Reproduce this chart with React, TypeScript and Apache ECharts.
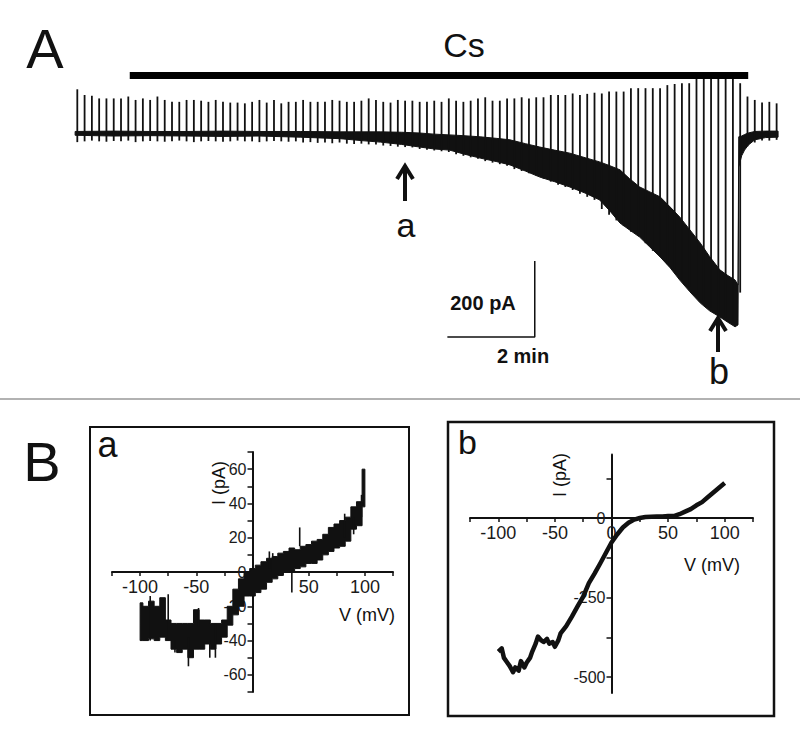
import React, { useEffect, useRef } from "react";
import * as echarts from "echarts";

// ---------- Panel A : whole-cell current trace (time in s, current in pA) ----------
const SPIKE_PERIOD_S = 10; // voltage ramp every 10 s
const spikeTops = [
  115, 100, 98, 91, 91, 91, 91, 96, 87, 91, 87, 96, 87, 82, 82, 87, 87, 85, 82, 87, 82, 80, 80,
  78, 82, 87, 80, 87, 78, 82, 82, 87, 82, 82, 82, 87, 85, 82, 82, 85, 91, 87, 82, 80, 87, 85, 85,
  82, 82, 85, 82, 91, 85, 82, 85, 91, 94, 85, 85, 91, 91, 94, 91, 94, 94, 100, 100, 100, 104, 100, 103, 106,
  104, 109, 109, 109, 118, 118, 118, 118, 118, 126, 129, 131, 131, 150, 150, 150, 150, 150, 150, 131, 96, 87, 80, 82, 78,
];
const spikeBottoms = [
  -24, -22, -20, -22, -23, -21, -22, -20, -24, -22, -21, -22, -23, -22, -20, -22, -24, -22, -21, -22, -23, -22, -20, -22, -22, -24, -22, -21, -22, -23, -22,
  -25, -24, -26, -25, -27, -25,
  -28, -29, -28, -30, -30,
  -33, -34, -36, -37, -38,
  -42, -44, -46, -48, -50,
  -56, -60, -64, -68,
  -74, -78, -82, -86,
  -95, -100, -106, -112,
  -120, -128, -136, -142,
  -150, -160, -168, -176,
  -200, -215, -230,
  -245, -260, -270,
  -290, -310, -325,
  -345, -365, -385,
  -405, -425, -440,
  -460, -475, -485,
  -500, -420,
  -35, -25, -20, -20, -18,
];
const traceTimes = [
  -3, 50, 100, 150, 200, 250, 306, 361, 390, 416, 445, 470, 490, 511, 530, 553, 575, 594, 615, 635,
  655, 676, 697, 717, 731, 745, 758, 772, 786, 800, 814, 827, 841, 855, 868, 882, 893, 903, 907, 908,
  912, 916, 921, 930, 945, 962,
];
const traceUpper = [
  4, 5, 4, 4, 5, 4, 4, 3, 3, 3, 2, 0, -3, -5, -7, -10, -14, -18, -28, -37,
  -45, -53, -65, -76, -86, -97, -120, -142, -155, -168, -195, -221, -255, -289, -325, -360, -375, -387, -400, -10,
  -8, -4, 0, 4, 5, 5,
];
const traceLower = [
  -6, -8, -7, -8, -9, -8, -11, -15, -20, -24, -30, -37, -42, -45, -55, -66, -75, -84, -100, -116,
  -128, -142, -158, -176, -205, -237, -255, -274, -300, -326, -355, -387, -418, -447, -468, -484, -498, -510, -505, -90,
  -60, -45, -32, -18, -12, -11,
];
const csBar = { start: 72, end: 921, level: 151 };
const scaleBar = { t: 628, dt: 120, i: -537, di: 200 };

// ---------- Panel B a : I-V at point a ----------
const ivA_V = [
  -100, -95, -90, -85, -80, -75, -70, -65, -60, -55, -50, -45, -40, -35, -30, -25, -20, -15, -10, -5,
  0, 5, 10, 15, 20, 25, 30, 35, 40, 45, 50, 55, 60, 65, 70, 75, 80, 85, 90, 95, 100,
];
const ivA_lower = [
  -40, -40, -39, -40, -38, -40, -45, -47, -45, -50, -45, -45, -42, -45, -42, -38, -31, -25, -20, -14,
  -14, -12, -10, -6, -4, -2, 0, 0, 2, 3, 5, 5, 7, 10, 12, 14, 15, 18, 25, 27, 38,
];
const ivA_upper = [
  -18, -20, -17, -20, -15, -28, -30, -30, -30, -30, -22, -28, -28, -30, -30, -28, -20, -10, -4, 0,
  2, 4, 6, 8, 9, 11, 12, 14, 13, 15, 16, 18, 19, 22, 26, 28, 30, 32, 38, 41, 60,
];
// isolated noise excursions of the a-trace: voltage, current from, current to
const ivA_noiseV = [-91, -75, -69, -57, -48, -38, -33, 15, 18, 35, 42, 82, 90, 97];
const ivA_noiseFrom = [-14, -13, -40, -38, -21, -40, -30, 2, 11, 0, 26, 20, 32, 32];
const ivA_noiseTo = [-40, -40, -47, -55, -32, -50, -50, 12, 0, -12, 15, 34, 22, 45];
const ivA_xTicks = [-125, -100, -75, -50, -25, 0, 25, 50, 75, 100, 125];
const ivA_xLabels = [-100, -50, 0, 50, 100];
const ivA_yTicks = [-70, -60, -50, -40, -30, -20, -10, 0, 10, 20, 30, 40, 50, 60, 70];
const ivA_yLabels = [-60, -40, -20, 0, 20, 40, 60];

// ---------- Panel B b : I-V at point b ----------
const ivB_V = [
  -100, -97, -95, -92, -90, -87, -85, -82, -80, -77, -75, -72, -70, -67, -65, -62, -60, -57, -55, -52,
  -50, -47, -45, -40, -35, -30, -25, -20, -15, -10, -5, 0, 5, 10, 15, 20, 25, 30, 35, 40,
  45, 50, 55, 60, 65, 70, 75, 80, 85, 90, 95, 100,
];
const ivB_I = [
  -420, -410, -440, -455, -465, -485, -470, -480, -450, -470, -455, -440, -420, -395, -373, -385, -390, -380, -395, -390,
  -405, -385, -363, -340, -310, -278, -247, -205, -175, -143, -110, -77, -52, -30, -15, -5, 0, 3, 4, 5,
  5, 6, 6, 12, 20, 28, 40, 50, 65, 80, 95, 110,
];
const ivB_xTicks = [-125, -100, -75, -50, -25, 0, 25, 50, 75, 100, 125];
const ivB_xLabels = [-100, -50, 0, 50, 100];
const ivB_yTicks = [-500, -375, -250, -125, 0, 125];
const ivB_yLabels = [-500, -250, 0];

const FONT = "'Liberation Sans', Arial, Helvetica, sans-serif";
const INK = "#111";

function ivAxisX(grid: number, ticks: number[], labels: number[], offset: number) {
  return {
    gridIndex: grid,
    type: "value",
    position: "bottom",
    offset,
    min: -125,
    max: 125,
    axisLine: { show: true, onZero: false, lineStyle: { color: INK, width: 2 } },
    axisTick: { show: true, customValues: ticks, length: 4, lineStyle: { color: INK, width: 1.5 } },
    axisLabel: { show: true, customValues: labels, fontSize: 18, fontFamily: FONT, color: "#1a1a1a", margin: 6 },
    splitLine: { show: false },
  };
}
function ivAxisY(grid: number, min: number, max: number, ticks: number[], labels: number[], offset: number) {
  return {
    gridIndex: grid,
    type: "value",
    position: "left",
    offset,
    min,
    max,
    axisLine: { show: true, onZero: false, lineStyle: { color: INK, width: 2 } },
    axisTick: { show: true, customValues: ticks, length: 5, lineStyle: { color: INK, width: 1.5 } },
    axisLabel: { show: true, customValues: labels, fontSize: 16, fontFamily: FONT, color: "#1a1a1a", margin: 6 },
    splitLine: { show: false },
  };
}

function txt(text: string, x: number, y: number, size: number, extra: any = {}) {
  return {
    type: "text",
    x,
    y,
    rotation: extra.rotation || 0,
    z: 10,
    style: {
      text,
      fill: INK,
      font: `${extra.bold ? "bold " : ""}${size}px ${FONT}`,
      align: "center",
      verticalAlign: "middle",
    },
  };
}

function arrow(x: number, tipY: number, baseY: number) {
  return [
    { type: "line", z: 10, shape: { x1: x, y1: tipY + 2, x2: x, y2: baseY }, style: { stroke: INK, lineWidth: 4 } },
    {
      type: "polyline",
      z: 10,
      shape: { points: [[x - 8, tipY + 13], [x, tipY], [x + 8, tipY + 13]] },
      style: { stroke: INK, lineWidth: 4, fill: "none", lineJoin: "miter" },
    },
  ];
}

export default function App() {
  const ref = useRef<HTMLDivElement>(null);
  useEffect(() => {
    if (!ref.current) return;
    const chart = echarts.init(ref.current, undefined, { renderer: "svg" });

    const option: any = {
      animation: false,
      backgroundColor: "#fff",
      grid: [
        { left: 73.66, top: 57, width: 706.6, height: 285, outerBoundsMode: "none" },
        { left: 112, top: 452, width: 281, height: 240, outerBoundsMode: "none" },
        { left: 470, top: 454.4, width: 283, height: 238.5, outerBoundsMode: "none" },
      ],
      xAxis: [
        { gridIndex: 0, type: "value", min: -5, max: 965, show: false },
        ivAxisX(1, ivA_xTicks, ivA_xLabels, -120),
        ivAxisX(2, ivB_xTicks, ivB_xLabels, -174.9),
      ],
      yAxis: [
        { gridIndex: 0, type: "value", min: -550, max: 200, show: false },
        ivAxisY(1, -70, 70, ivA_yTicks, ivA_yLabels, -140.5),
        ivAxisY(2, -550, 200, ivB_yTicks, ivB_yLabels, -141.5),
      ],
      series: [
        {
          type: "custom",
          name: "trace",
          xAxisIndex: 0,
          yAxisIndex: 0,
          data: [[traceTimes[0], traceUpper[0]]],
          renderItem: (_p: any, api: any) => {
            const pts: number[][] = [];
            for (let i = 0; i < traceTimes.length; i++) pts.push(api.coord([traceTimes[i], traceUpper[i]]));
            for (let i = traceTimes.length - 1; i >= 0; i--) pts.push(api.coord([traceTimes[i], traceLower[i]]));
            return { type: "polygon", shape: { points: pts }, style: { fill: INK, stroke: INK, lineWidth: 1 } };
          },
        },
        {
          type: "custom",
          name: "ramps",
          xAxisIndex: 0,
          yAxisIndex: 0,
          data: spikeTops.map((top, i) => [i * SPIKE_PERIOD_S, top, spikeBottoms[i]]),
          encode: { x: 0, y: [1, 2] },
          renderItem: (_p: any, api: any) => {
            const t = api.value(0);
            const a = api.coord([t, api.value(1)]);
            const b = api.coord([t, api.value(2)]);
            return { type: "line", shape: { x1: a[0], y1: a[1], x2: b[0], y2: b[1] }, style: { stroke: INK, lineWidth: 1.8 } };
          },
        },
        {
          type: "line",
          name: "Cs",
          xAxisIndex: 0,
          yAxisIndex: 0,
          symbol: "none",
          data: [[csBar.start, csBar.level], [csBar.end, csBar.level]],
          lineStyle: { color: "#000", width: 7, cap: "butt" },
          z: 5,
        },
        {
          type: "line",
          name: "scale",
          xAxisIndex: 0,
          yAxisIndex: 0,
          symbol: "none",
          data: [
            [scaleBar.t, scaleBar.i + scaleBar.di],
            [scaleBar.t, scaleBar.i],
            [scaleBar.t - scaleBar.dt, scaleBar.i],
          ],
          lineStyle: { color: INK, width: 1.5 },
        },
        {
          type: "custom",
          name: "IV a",
          xAxisIndex: 1,
          yAxisIndex: 1,
          data: [[ivA_V[0], ivA_upper[0]]],
          renderItem: (_p: any, api: any) => {
            const pts: number[][] = [];
            const n = ivA_V.length;
            for (let i = 0; i < n; i++) {
              const l = Math.max(-100, ivA_V[i] - 2.5);
              const r = Math.min(100, ivA_V[i] + 2.5);
              pts.push(api.coord([l, ivA_upper[i]]));
              pts.push(api.coord([r, ivA_upper[i]]));
            }
            for (let i = n - 1; i >= 0; i--) {
              const l = Math.max(-100, ivA_V[i] - 2.5);
              const r = Math.min(100, ivA_V[i] + 2.5);
              pts.push(api.coord([r, ivA_lower[i]]));
              pts.push(api.coord([l, ivA_lower[i]]));
            }
            return { type: "polygon", shape: { points: pts }, style: { fill: INK, stroke: INK, lineWidth: 1 } };
          },
        },
        {
          type: "custom",
          name: "IV a noise",
          xAxisIndex: 1,
          yAxisIndex: 1,
          data: ivA_noiseV.map((v, i) => [v, ivA_noiseFrom[i], ivA_noiseTo[i]]),
          encode: { x: 0, y: [1, 2] },
          renderItem: (_p: any, api: any) => {
            const v = api.value(0);
            const a = api.coord([v, api.value(1)]);
            const b = api.coord([v, api.value(2)]);
            return { type: "line", shape: { x1: a[0], y1: a[1], x2: b[0], y2: b[1] }, style: { stroke: INK, lineWidth: 1.6 } };
          },
        },
        {
          type: "line",
          name: "IV b",
          xAxisIndex: 2,
          yAxisIndex: 2,
          symbol: "none",
          data: ivB_V.map((v, i) => [v, ivB_I[i]]),
          lineStyle: { color: INK, width: 4.5, join: "round" },
        },
      ],
      graphic: [
        txt("A", 45, 48, 56),
        txt("Cs", 464, 44.5, 34),
        ...arrow(405, 166, 201),
        ...arrow(718, 318, 352),
        txt("a", 406, 225, 34),
        txt("b", 719, 371, 36),
        txt("200 pA", 483, 302.5, 20, { bold: true }),
        txt("2 min", 523, 355.5, 20, { bold: true }),
        { type: "line", shape: { x1: 0, y1: 399, x2: 800, y2: 399 }, style: { stroke: "#999", lineWidth: 1.5 } },
        txt("B", 42, 461, 56),
        { type: "rect", shape: { x: 90, y: 427, width: 319, height: 288 }, style: { fill: "none", stroke: INK, lineWidth: 2 } },
        { type: "rect", shape: { x: 448, y: 422, width: 326, height: 294 }, style: { fill: "none", stroke: INK, lineWidth: 2.5 } },
        txt("a", 107.5, 444, 36),
        txt("b", 467.5, 442, 34),
        txt("I (pA)", 219, 483, 18, { rotation: Math.PI / 2 }),
        txt("I (pA)", 560, 475, 18, { rotation: Math.PI / 2 }),
        txt("V (mV)", 367, 615, 18),
        txt("V (mV)", 712, 565, 18),
      ],
    };
    chart.setOption(option);
    return () => chart.dispose();
  }, []);

  return (
    <div
      ref={ref}
      style={{ position: "absolute", left: 0, top: 0, width: 800, height: 742, background: "#fff" }}
    />
  );
}
